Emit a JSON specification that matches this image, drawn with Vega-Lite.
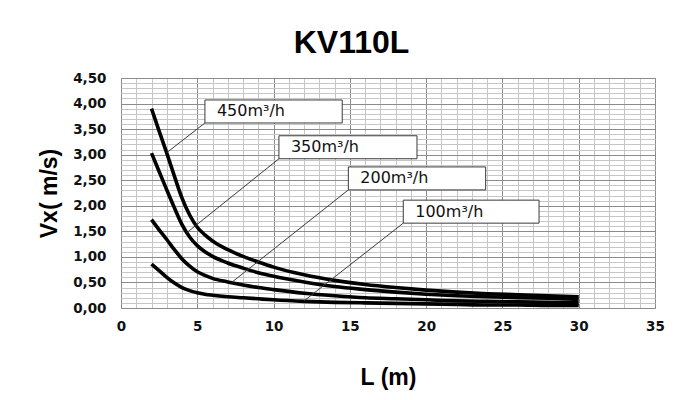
{
  "$schema": "https://vega.github.io/schema/vega-lite/v6.json",
  "autosize": {"type": "none"},
  "width": 534,
  "height": 230,
  "padding": {"left": 121, "top": 78, "right": 22, "bottom": 92},
  "background": "white",
  "title": {
    "text": "KV110L",
    "font": "Liberation Sans",
    "fontSize": 32,
    "fontWeight": "bold",
    "color": "black",
    "anchor": "middle",
    "frame": "bounds",
    "offset": 11
  },
  "config": {
    "view": {"stroke": "#7f7f7f", "strokeWidth": 1}
  },
  "resolve": {"axis": {"x": "independent", "y": "independent"}},
  "datasets": {
    "curves": [
      {"L": 2, "v": 3.90, "Q": "450"}, {"L": 2.5, "v": 3.46, "Q": "450"}, {"L": 3, "v": 3.03, "Q": "450"}, {"L": 3.5, "v": 2.58, "Q": "450"}, {"L": 4, "v": 2.15, "Q": "450"}, {"L": 4.5, "v": 1.82, "Q": "450"}, {"L": 5, "v": 1.58, "Q": "450"}, {"L": 5.5, "v": 1.43, "Q": "450"}, {"L": 6, "v": 1.31, "Q": "450"}, {"L": 7, "v": 1.14, "Q": "450"}, {"L": 8, "v": 1.01, "Q": "450"}, {"L": 9, "v": 0.90, "Q": "450"}, {"L": 10, "v": 0.80, "Q": "450"}, {"L": 12, "v": 0.65, "Q": "450"}, {"L": 14, "v": 0.54, "Q": "450"}, {"L": 16, "v": 0.46, "Q": "450"}, {"L": 18, "v": 0.40, "Q": "450"}, {"L": 20, "v": 0.35, "Q": "450"}, {"L": 22, "v": 0.31, "Q": "450"}, {"L": 24, "v": 0.28, "Q": "450"}, {"L": 26, "v": 0.26, "Q": "450"}, {"L": 28, "v": 0.24, "Q": "450"}, {"L": 30, "v": 0.22, "Q": "450"},
      {"L": 2, "v": 3.03, "Q": "350"}, {"L": 2.5, "v": 2.67, "Q": "350"}, {"L": 3, "v": 2.31, "Q": "350"}, {"L": 3.5, "v": 1.96, "Q": "350"}, {"L": 4, "v": 1.63, "Q": "350"}, {"L": 4.5, "v": 1.39, "Q": "350"}, {"L": 5, "v": 1.22, "Q": "350"}, {"L": 5.5, "v": 1.10, "Q": "350"}, {"L": 6, "v": 1.01, "Q": "350"}, {"L": 7, "v": 0.88, "Q": "350"}, {"L": 8, "v": 0.78, "Q": "350"}, {"L": 9, "v": 0.69, "Q": "350"}, {"L": 10, "v": 0.62, "Q": "350"}, {"L": 12, "v": 0.51, "Q": "350"}, {"L": 14, "v": 0.42, "Q": "350"}, {"L": 16, "v": 0.36, "Q": "350"}, {"L": 18, "v": 0.31, "Q": "350"}, {"L": 20, "v": 0.27, "Q": "350"}, {"L": 22, "v": 0.24, "Q": "350"}, {"L": 24, "v": 0.22, "Q": "350"}, {"L": 26, "v": 0.20, "Q": "350"}, {"L": 28, "v": 0.19, "Q": "350"}, {"L": 30, "v": 0.17, "Q": "350"},
      {"L": 2, "v": 1.73, "Q": "200"}, {"L": 2.5, "v": 1.53, "Q": "200"}, {"L": 3, "v": 1.34, "Q": "200"}, {"L": 3.5, "v": 1.14, "Q": "200"}, {"L": 4, "v": 0.96, "Q": "200"}, {"L": 4.5, "v": 0.82, "Q": "200"}, {"L": 5, "v": 0.71, "Q": "200"}, {"L": 5.5, "v": 0.64, "Q": "200"}, {"L": 6, "v": 0.58, "Q": "200"}, {"L": 7, "v": 0.51, "Q": "200"}, {"L": 8, "v": 0.45, "Q": "200"}, {"L": 9, "v": 0.40, "Q": "200"}, {"L": 10, "v": 0.36, "Q": "200"}, {"L": 12, "v": 0.29, "Q": "200"}, {"L": 14, "v": 0.24, "Q": "200"}, {"L": 16, "v": 0.20, "Q": "200"}, {"L": 18, "v": 0.18, "Q": "200"}, {"L": 20, "v": 0.16, "Q": "200"}, {"L": 22, "v": 0.14, "Q": "200"}, {"L": 24, "v": 0.13, "Q": "200"}, {"L": 26, "v": 0.12, "Q": "200"}, {"L": 28, "v": 0.11, "Q": "200"}, {"L": 30, "v": 0.10, "Q": "200"},
      {"L": 2, "v": 0.86, "Q": "100"}, {"L": 2.5, "v": 0.73, "Q": "100"}, {"L": 3, "v": 0.60, "Q": "100"}, {"L": 3.5, "v": 0.49, "Q": "100"}, {"L": 4, "v": 0.40, "Q": "100"}, {"L": 4.5, "v": 0.34, "Q": "100"}, {"L": 5, "v": 0.30, "Q": "100"}, {"L": 5.5, "v": 0.27, "Q": "100"}, {"L": 6, "v": 0.25, "Q": "100"}, {"L": 7, "v": 0.22, "Q": "100"}, {"L": 8, "v": 0.20, "Q": "100"}, {"L": 9, "v": 0.18, "Q": "100"}, {"L": 10, "v": 0.16, "Q": "100"}, {"L": 12, "v": 0.13, "Q": "100"}, {"L": 14, "v": 0.11, "Q": "100"}, {"L": 16, "v": 0.10, "Q": "100"}, {"L": 18, "v": 0.09, "Q": "100"}, {"L": 20, "v": 0.08, "Q": "100"}, {"L": 22, "v": 0.07, "Q": "100"}, {"L": 24, "v": 0.06, "Q": "100"}, {"L": 26, "v": 0.06, "Q": "100"}, {"L": 28, "v": 0.05, "Q": "100"}, {"L": 30, "v": 0.05, "Q": "100"}
    ],
    "boxes": [
      {"label": "450m³/h", "L0": 5.5, "L1": 14.5, "vTop": 4.07, "vBot": 3.62, "vMid": 3.845, "tipL": 3.0, "tipV": 3.04},
      {"label": "350m³/h", "L0": 10.35, "L1": 19.4, "vTop": 3.37, "vBot": 2.92, "vMid": 3.145, "tipL": 4.3, "tipV": 1.47},
      {"label": "200m³/h", "L0": 14.9, "L1": 23.9, "vTop": 2.76, "vBot": 2.31, "vMid": 2.535, "tipL": 7.25, "tipV": 0.50},
      {"label": "100m³/h", "L0": 18.5, "L1": 27.4, "vTop": 2.11, "vBot": 1.66, "vMid": 1.885, "tipL": 12.0, "tipV": 0.14}
    ]
  },
  "layer": [
    {
      "data": {"name": "curves"},
      "mark": {"type": "line", "color": "black", "strokeWidth": 3.6, "interpolate": "monotone"},
      "encoding": {
        "x": {
          "field": "L", "type": "quantitative",
          "scale": {"domain": [0, 35], "nice": false, "zero": false},
          "axis": {
            "title": "L (m)",
            "orient": "bottom",
            "values": [0,1,2,3,4,5,6,7,8,9,10,11,12,13,14,15,16,17,18,19,20,21,22,23,24,25,26,27,28,29,30,31,32,33,34,35],
            "labelExpr": "datum.value % 5 === 0 ? datum.label : ''",
            "labelOverlap": false,
            "labelFont": "DejaVu Sans", "labelFontSize": 13.5, "labelFontWeight": "bold", "labelColor": "#111",
            "labelPadding": 11, "labelFlush": false,
            "ticks": false, "domain": false,
            "grid": true,
            "gridColor": {"condition": {"test": "datum.value % 5 === 0", "value": "#8c8c8c"}, "value": "#c6c6c6"},
            "gridWidth": 1,
            "titleFont": "Liberation Sans", "titleFontSize": 23, "titleFontWeight": "bold", "titleColor": "black",
            "titlePadding": 34
          }
        },
        "y": {
          "field": "v", "type": "quantitative",
          "scale": {"domain": [0, 4.5], "nice": false, "zero": false},
          "axis": {
            "title": "Vx( m/s)",
            "orient": "left",
            "values": [0,0.1,0.2,0.3,0.4,0.5,0.6,0.7,0.8,0.9,1,1.1,1.2,1.3,1.4,1.5,1.6,1.7,1.8,1.9,2,2.1,2.2,2.3,2.4,2.5,2.6,2.7,2.8,2.9,3,3.1,3.2,3.3,3.4,3.5,3.6,3.7,3.8,3.9,4,4.1,4.2,4.3,4.4,4.5],
            "labelExpr": "round(datum.value * 10) % 5 === 0 ? replace(format(datum.value, '.2f'), '.', ',') : ''",
            "labelOverlap": false,
            "labelFont": "DejaVu Sans", "labelFontSize": 13.5, "labelFontWeight": "bold", "labelColor": "#111",
            "labelPadding": 15, "labelFlush": false,
            "ticks": false, "domain": false,
            "grid": true,
            "gridColor": {"condition": {"test": "round(datum.value * 10) % 5 === 0", "value": "#8c8c8c"}, "value": "#c6c6c6"},
            "gridWidth": 1,
            "titleFont": "Liberation Sans", "titleFontSize": 23, "titleFontWeight": "bold", "titleColor": "black",
            "titlePadding": 11
          }
        },
        "detail": {"field": "Q", "type": "nominal"}
      }
    },
    {
      "data": {"name": "boxes"},
      "mark": {"type": "rule", "color": "#3a3a3a", "strokeWidth": 1},
      "encoding": {
        "x": {"field": "L0", "type": "quantitative", "axis": null},
        "y": {"field": "vBot", "type": "quantitative", "axis": null},
        "x2": {"field": "tipL"},
        "y2": {"field": "tipV"}
      }
    },
    {
      "data": {"name": "boxes"},
      "mark": {"type": "rect", "fill": "white", "stroke": "#3a3a3a", "strokeWidth": 1},
      "encoding": {
        "x": {"field": "L0", "type": "quantitative", "axis": null},
        "x2": {"field": "L1"},
        "y": {"field": "vTop", "type": "quantitative", "axis": null},
        "y2": {"field": "vBot"}
      }
    },
    {
      "data": {"name": "boxes"},
      "mark": {"type": "text", "align": "left", "baseline": "middle", "dx": 12, "font": "DejaVu Sans", "fontSize": 16, "color": "#111"},
      "encoding": {
        "x": {"field": "L0", "type": "quantitative", "axis": null},
        "y": {"field": "vMid", "type": "quantitative", "axis": null},
        "text": {"field": "label"}
      }
    }
  ]
}
